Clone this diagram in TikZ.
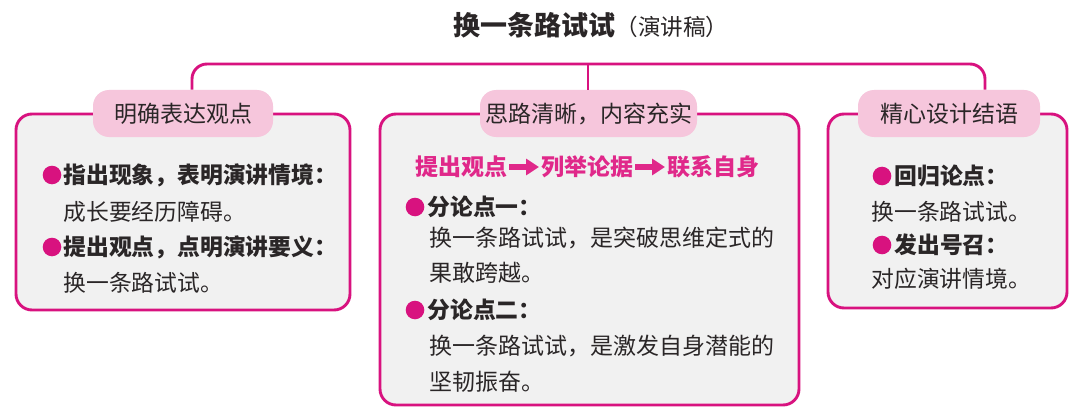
\documentclass[tikz,border=0pt]{standalone}
\usepackage{fontspec}
\setmainfont{Noto Sans CJK SC}
\usetikzlibrary{arrows.meta}
\definecolor{mag}{HTML}{D8127F}
\definecolor{pinkfill}{HTML}{F6C6DC}
\definecolor{boxgray}{HTML}{F1F1F1}
\definecolor{pinktext}{HTML}{E0288A}
\definecolor{ink}{HTML}{2A2627}
\tikzset{
  panel/.style={draw=mag, line width=1.45pt, fill=boxgray, rounded corners=8pt},
  tag/.style={fill=pinkfill, rounded corners=8pt, minimum height=23.5pt, inner sep=0pt, text=ink, font=\fontsize{11.5pt}{13pt}\selectfont},
  conn/.style={draw=mag, line width=1.45pt},
  dot/.style={circle, fill=mag, minimum size=9.3pt, inner sep=0pt},
  head/.style={anchor=west, inner sep=0pt, text=ink, font=\fontsize{11.4pt}{13pt}\selectfont\bfseries},
  body/.style={anchor=west, inner sep=0pt, text=ink, font=\fontsize{11.4pt}{13pt}\selectfont},
  wide/.style={anchor=west, inner sep=0pt, text=ink, font=\fontsize{11.5pt}{13pt}\selectfont},
  flow/.style={anchor=west, inner sep=0pt, text=pinktext, font=\fontsize{11.5pt}{13pt}\selectfont\bfseries},
  fatarrow/.style={draw=pinktext, line width=2.8pt, -{Triangle[length=6.5pt,width=8pt]}, shorten <=0.8pt, shorten >=1pt},
}
\begin{document}
\begin{tikzpicture}[x=0.5pt,y=-0.5pt]
\useasboundingbox (0,0) rectangle (1080,417);
\fill[white] (0,0) rectangle (1080,417);
% title
\node[anchor=west, inner sep=0pt, text=ink] (title) at (453,25)
  {{\fontsize{13.5pt}{15pt}\selectfont\bfseries 换一条路试试}{\fontsize{11.3pt}{13pt}\selectfont （演讲稿）}};
% panels
\path[panel] (16,114) rectangle (350,310);
\path[panel] (380,114) rectangle (799,405);
\path[panel] (828,114) rectangle (1067,308);
% tags
\node[tag, minimum width=90pt] (lab1) at (183,113.5) {明确表达观点};
\node[tag, minimum width=108.5pt] (lab2) at (588.5,113.5) {思路清晰，内容充实};
\node[tag, minimum width=91pt] (lab3) at (949,113.5) {精心设计结语};
% connectors
\coordinate (hl) at (192,64);
\coordinate (hr) at (985,64);
\draw[conn, rounded corners=7.5pt] (hl |- lab1.north) -- (hl) -- (hr) -- (hr |- lab3.north);
\draw[conn] (lab2.north -| 588,0) -- (588,64);
% left panel
\node[dot] (d1) at (52,175) {};
\node[head] (t1) at (63,175) {指出现象，表明演讲情境：};
\node[body] (t2) at (63,212) {成长要经历障碍。};
\node[dot] (d2) at (52,247) {};
\node[head] (t3) at (63,247) {提出观点，点明演讲要义：};
\node[body] (t4) at (63,283) {换一条路试试。};
% middle panel
\node[flow] (p1) at (415,167) {提出观点};
\node[flow] (p2) at (541,167) {列举论据};
\node[flow] (p3) at (667,167) {联系自身};
\draw[fatarrow] (p1.east) -- (p2.west);
\draw[fatarrow] (p2.east) -- (p3.west);
\node[dot] (d3) at (415,207) {};
\node[head] (m1) at (427,207) {分论点一：};
\node[wide] (m2) at (429,238) {换一条路试试，是突破思维定式的};
\node[wide] (m3) at (429,273) {果敢跨越。};
\node[dot] (d4) at (415,310) {};
\node[head] (m4) at (427,310) {分论点二：};
\node[wide] (m5) at (429,346) {换一条路试试，是激发自身潜能的};
\node[wide] (m6) at (429,382) {坚韧振奋。};
% right panel
\node[dot] (d5) at (882,176) {};
\node[head] (r1) at (894,176) {回归论点：};
\node[body] (r2) at (871,212) {换一条路试试。};
\node[dot] (d6) at (882,245) {};
\node[head] (r3) at (894,245) {发出号召：};
\node[body] (r4) at (871,279) {对应演讲情境。};
\end{tikzpicture}
\end{document}
